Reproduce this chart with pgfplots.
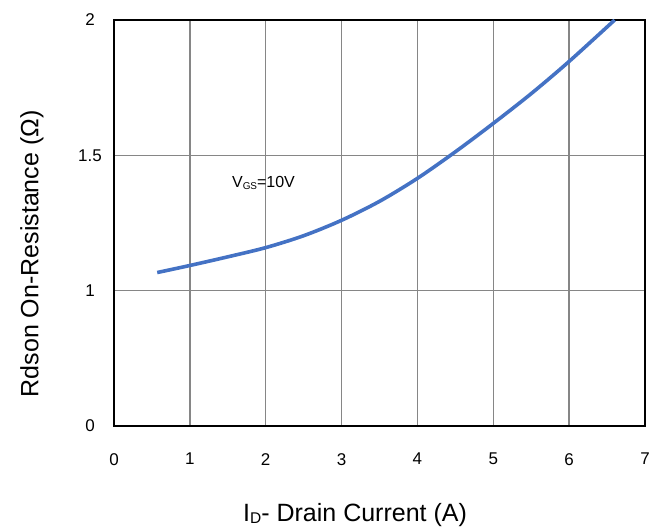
\documentclass[border=0pt]{standalone}
\usepackage{fontspec}
\setmainfont{Liberation Sans}
\usepackage{pgfplots}
\pgfplotsset{compat=1.18}
\definecolor{curveblue}{RGB}{68,114,196}
\definecolor{gridgray}{RGB}{134,134,134}
\newcommand{\lowsub}[1]{\raisebox{-0.08em}{\scalebox{0.62}{#1}}}

\begin{document}
\begin{tikzpicture}
  \useasboundingbox (0,0) rectangle (666pt,530pt);
  \begin{axis}[
      at={(114pt,104pt)}, anchor=south west,
      width=531pt, height=406pt, scale only axis,
      xmin=0, xmax=7, ymin=0, ymax=2,
      % the y scale is not linear: 0-1, 1-1.5 and 1.5-2 take equal room
      y coord trafo/.code={\pgfmathparse{(#1<1)?(#1):(2*#1-1)}},
      xtick={0,1,...,7},
      ytick={0,1,1.5,2}, yticklabels={0,1,1.5,2},
      grid=major,
      major grid style={gridgray, line width=1.4pt},
      axis line style={black, line width=1.5pt},
      major tick length=0pt,
      /pgf/number format/assume math mode=true,
      ticklabel style={font=\fontsize{17}{17}\selectfont},
      xticklabel style={anchor=north, inner sep=0pt, yshift=-27pt},
      yticklabel style={anchor=center, inner sep=0pt, xshift=-24pt},
      xlabel={I\lowsub{D}- Drain Current (A)},
      ylabel={Rdson On-Resistance (Ω)},
      xlabel style={at={(rel axis cs:0.454,-0.219)}, anchor=center,
        font=\fontsize{25}{25}\selectfont},
      ylabel style={at={(rel axis cs:-0.1544,0.424)}, anchor=center,
        font=\fontsize{25}{25}\selectfont},
    ]
    \addplot[curveblue, line width=3.6pt, smooth, no marks] coordinates {
      (0.57,1.067) (1,1.093) (1.5,1.125) (2,1.159) (2.5,1.203)
      (3,1.26) (3.5,1.33) (4,1.415) (4.5,1.513) (5,1.618)
      (5.5,1.728) (6,1.847) (6.6,2.0)
    };
    \node[anchor=west, inner sep=0pt, font=\fontsize{16}{16}\selectfont]
      at (rel axis cs:0.222,0.5985) {V\lowsub{GS}=10V};
  \end{axis}
\end{tikzpicture}
\end{document}
